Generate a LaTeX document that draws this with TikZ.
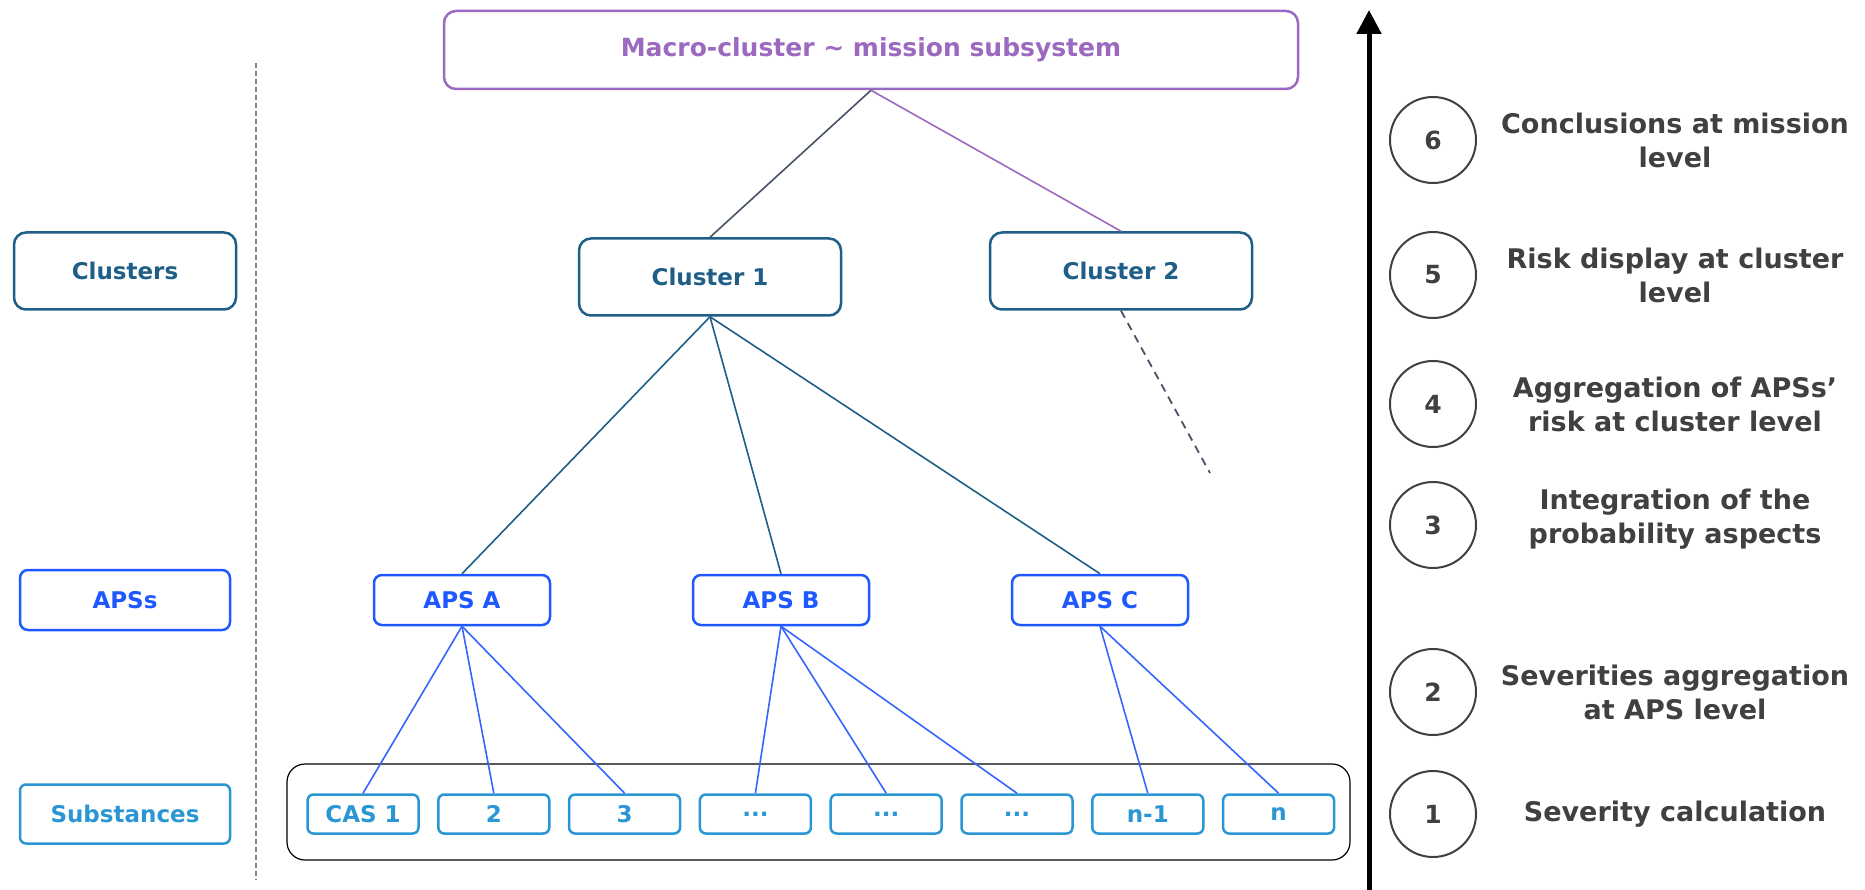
\documentclass[tikz,border=0pt]{standalone}
\usepackage{fontspec}
\setmainfont{DejaVu Sans}
\usetikzlibrary{calc}
\usetikzlibrary{arrows.meta}

\definecolor{macrocol}{RGB}{155,105,192}
\definecolor{clustcol}{RGB}{31,94,134}
\definecolor{apscol}{RGB}{30,88,255}
\definecolor{subcol}{RGB}{42,150,212}
\definecolor{stepcol}{RGB}{64,64,64}
\definecolor{linkcol}{RGB}{72,82,102}
\definecolor{sublink}{RGB}{52,102,255}

\tikzset{
  macrobox/.style={draw=macrocol,line width=2.5pt,rounded corners=12pt,minimum width=854pt,minimum height=78pt,text=macrocol,font=\fontsize{25}{30}\selectfont\bfseries},
  clustbox/.style={draw=clustcol,line width=2.5pt,rounded corners=12pt,minimum width=262pt,minimum height=77pt,text=clustcol,font=\fontsize{23}{28}\selectfont\bfseries},
  apsbox/.style={draw=apscol,line width=2.5pt,rounded corners=8pt,minimum width=176pt,minimum height=50pt,text=apscol,font=\fontsize{23}{28}\selectfont\bfseries},
  subbox/.style={draw=subcol,line width=2.5pt,rounded corners=6pt,minimum width=111pt,minimum height=39pt,text=subcol,font=\fontsize{23}{28}\selectfont\bfseries},
  stepcirc/.style={circle,draw=stepcol,line width=2pt,minimum size=86pt,text=stepcol,font=\fontsize{25}{30}\selectfont\bfseries},
  steptext/.style={text=stepcol,align=center,font=\fontsize{27}{34}\selectfont\bfseries},
}

\begin{document}
\begin{tikzpicture}[x=1pt,y=-1pt]
            \useasboundingbox (0,0) rectangle (1865,890);

            % Define the positions of the levels
            \def\yclu{277}  % cluster level
            \def\yaps{600}  % APS level
            \def\ysub{814}  % substance level
            \def\dsub{130.8}  % distance between substances
            \def\xstep{1433}  % x of the step circles

            % Draw the level labels on the left
            \node[clustbox,minimum width=222pt] (Lclu) at (125,271) {Clusters};
            \node[apsbox,minimum width=210pt,minimum height=60pt] (Laps) at (125,\yaps) {APSs};
            \node[subbox,minimum width=210pt,minimum height=59pt] (Lsub) at (125,\ysub) {Substances};
            \draw[gray,line width=1.2pt,dash pattern=on 5pt off 3pt] (256,63) -- (256,880);

            % Draw the tree
            \node[macrobox] (Mac) at (871,50) {Macro-cluster \textasciitilde{} mission subsystem};
            \node[clustbox] (C1) at (710,\yclu) {Cluster 1};
            \node[clustbox] (C2) at (1121,271) {Cluster 2};
            \node[apsbox] (A) at (462,\yaps) {APS A};
            \node[apsbox] (B) at (781,\yaps) {APS B};
            \node[apsbox] (C) at (1100,\yaps) {APS C};

            % Draw the substance container
            \draw[line width=1.2pt,rounded corners=18pt] (287,764) rectangle (1350,860);
            \node[subbox] (S1) at ({363+0*\dsub},\ysub) {CAS 1};
            \node[subbox] (S2) at ({363+1*\dsub},\ysub) {2};
            \node[subbox] (S3) at ({363+2*\dsub},\ysub) {3};
            \node[subbox] (S4) at ({363+3*\dsub},\ysub) {...};
            \node[subbox] (S5) at ({363+4*\dsub},\ysub) {...};
            \node[subbox] (S6) at ({363+5*\dsub},\ysub) {...};
            \node[subbox] (S7) at ({363+6*\dsub},\ysub) {n-1};
            \node[subbox] (S8) at ({363+7*\dsub},\ysub) {n};

            % Draw the links
            \draw[linkcol,line width=1.6pt] (Mac.south) -- (C1.north);
            \draw[macrocol,line width=1.6pt] (Mac.south) -- (C2.north);
            \coordinate (C2end) at (1210,473);
            \draw[linkcol,line width=1.8pt,dash pattern=on 8pt off 6pt] (C2.south) -- (C2end);
            \draw[clustcol,line width=1.6pt] (C1.south) -- (A.north);
            \draw[clustcol,line width=1.6pt] (C1.south) -- (B.north);
            \draw[clustcol,line width=1.6pt] (C1.south) -- (C.north);
            \draw[sublink,line width=1.6pt] (A.south) -- (S1.north);
            \draw[sublink,line width=1.6pt] (A.south) -- (S2.north);
            \draw[sublink,line width=1.6pt] (A.south) -- (S3.north);
            \draw[sublink,line width=1.6pt] (B.south) -- (S4.north);
            \draw[sublink,line width=1.6pt] (B.south) -- (S5.north);
            \draw[sublink,line width=1.6pt] (B.south) -- (S6.north);
            \draw[sublink,line width=1.6pt] (C.south) -- (S7.north);
            \draw[sublink,line width=1.6pt] (C.south) -- (S8.north);

            % Draw the step axis
            \coordinate (Abot) at (1369,890);
            \coordinate (Atop) at (1369,10);
            \draw[line width=5pt,-{Triangle[width=24pt,length=24pt]}] (Abot) -- (Atop);

            % Draw the steps
            \node[stepcirc] (N6) at (\xstep,140) {6};
            \node[stepcirc] (N5) at (\xstep,275) {5};
            \node[stepcirc] (N4) at (\xstep,404) {4};
            \node[stepcirc] (N3) at (\xstep,525) {3};
            \node[stepcirc] (N2) at (\xstep,692) {2};
            \node[stepcirc] (N1) at (\xstep,814) {1};
            \node[steptext] (T6) at (1675,140) {Conclusions at mission\\level};
            \node[steptext] (T5) at (1675,275) {Risk display at cluster\\level};
            \node[steptext] (T4) at (1675,404) {Aggregation of APSs’\\risk at cluster level};
            \node[steptext] (T3) at (1675,519) {Integration of the\\probability aspects};
            \node[steptext] (T2) at (1675,692) {Severities aggregation\\at APS level};
            \node[steptext] (T1) at (1675,814) {Severity calculation};

\end{tikzpicture}
\end{document}
